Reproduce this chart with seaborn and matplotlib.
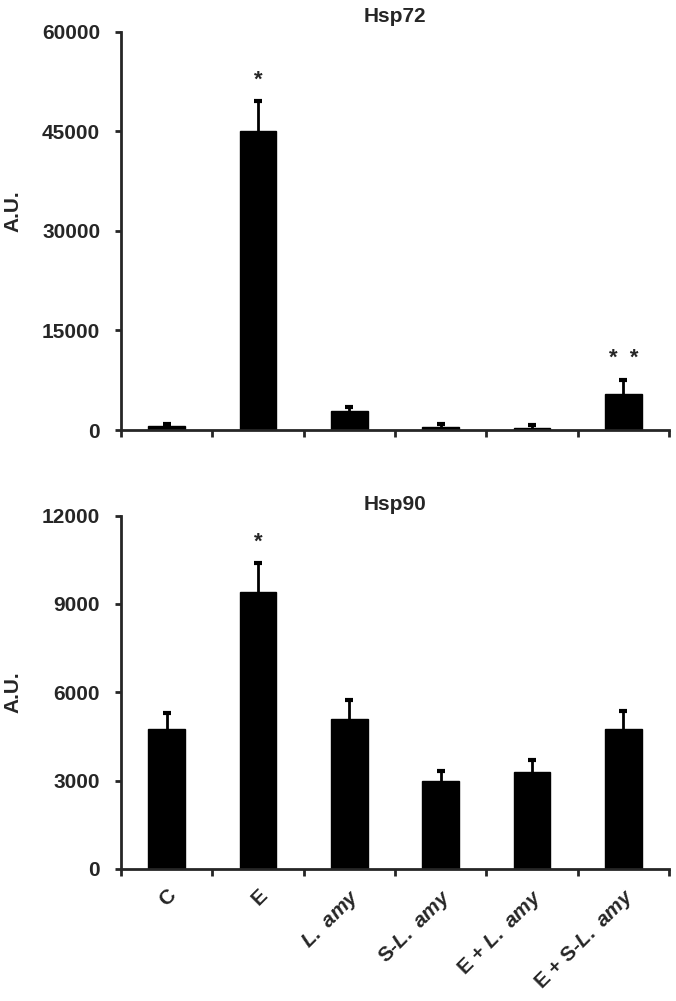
import numpy as np
import matplotlib
matplotlib.use('Agg')
import matplotlib.pyplot as plt
import matplotlib.transforms as mtransforms
import seaborn as sns

groups = ['C', 'E', 'L. amy', 'S-L. amy', 'E + L. amy', 'E + S-L. amy']
group_labels = ['C', 'E', r'$\mathit{L.\ amy}$', r'S-$\mathit{L.\ amy}$',
                r'E + $\mathit{L.\ amy}$', r'E + S-$\mathit{L.\ amy}$']

hsp72_mean = [550, 45000, 2850, 450, 250, 5500]
hsp72_err = [330, 4600, 550, 500, 450, 2100]
hsp72_stars = ['', '*', '', '', '', '*  *']

hsp90_mean = [4750, 9400, 5100, 3000, 3300, 4750]
hsp90_err = [530, 1000, 650, 330, 400, 620]
hsp90_stars = ['', '*', '', '', '', '']

sns.set_style('ticks')
plt.rcParams['font.family'] = ['Liberation Sans', 'DejaVu Sans']
plt.rcParams['font.weight'] = 'bold'
plt.rcParams['mathtext.fontset'] = 'custom'
plt.rcParams['mathtext.it'] = 'Liberation Sans:italic:bold'
plt.rcParams['mathtext.rm'] = 'Liberation Sans:bold'

fig = plt.figure(figsize=(6.76, 10.01), dpi=100)
ax1 = fig.add_axes([0.179, 0.5704, 0.8107, 0.398])
ax2 = fig.add_axes([0.179, 0.1319, 0.8107, 0.353])


def draw_panel(ax, mean, err, stars, title, ymax, step, show_labels, tpad):
    sns.barplot(x=groups, y=mean, color='black', width=0.4, saturation=1,
                edgecolor='black', ax=ax)
    xs = np.arange(len(groups))
    eb = ax.errorbar(xs, mean, yerr=[np.zeros(len(err)), err], fmt='none',
                     ecolor='black', elinewidth=2, capsize=3.2, capthick=3)
    # only the upper cap, like the original
    eb[1][0].set_visible(False)
    for x, m, e, s in zip(xs, mean, err, stars):
        if s:
            ax.annotate(s, (x, m + e), xytext=(0, 15), textcoords='offset points',
                        ha='center', va='center', fontsize=16, fontweight='bold')
    ax.set_xlim(-0.5, len(groups) - 0.5)
    ax.set_ylim(0, ymax)
    ax.set_yticks(np.arange(0, ymax + 1, step))
    ax.set_xticks(xs)
    ax.set_xticks(np.arange(-0.5, len(groups), 1), minor=True)
    if show_labels:
        ax.set_xticklabels(group_labels, rotation=45, ha='right',
                           rotation_mode='anchor', fontsize=15, fontweight='bold')
        shift = mtransforms.ScaledTranslation(6 / 100, 0, fig.dpi_scale_trans)
        for lab in ax.get_xticklabels():
            lab.set_transform(lab.get_transform() + shift)
    else:
        ax.set_xticklabels([])
    ax.tick_params(axis='x', which='major', length=0, pad=12)
    ax.tick_params(axis='x', which='minor', length=5, width=2, direction='out')
    ax.tick_params(axis='y', length=4, width=2, direction='out', pad=11,
                   labelsize=15)
    for lab in ax.get_yticklabels():
        lab.set_fontweight('bold')
    sns.despine(ax=ax)
    for sp in ['left', 'bottom']:
        ax.spines[sp].set_linewidth(2)
    ax.set_ylabel('A.U.', fontsize=15, fontweight='bold')
    ax.set_xlabel('')
    ax.set_title(title, fontsize=15, fontweight='bold', x=0.5, pad=tpad)


draw_panel(ax1, hsp72_mean, hsp72_err, hsp72_stars, 'Hsp72', 60000, 15000, False, 7)
draw_panel(ax2, hsp90_mean, hsp90_err, hsp90_stars, 'Hsp90', 12000, 3000, True, 4)
ax1.yaxis.set_label_coords(-0.179, 0.55)
ax2.yaxis.set_label_coords(-0.179, 0.5)

fig.savefig('out.png', dpi=100)
